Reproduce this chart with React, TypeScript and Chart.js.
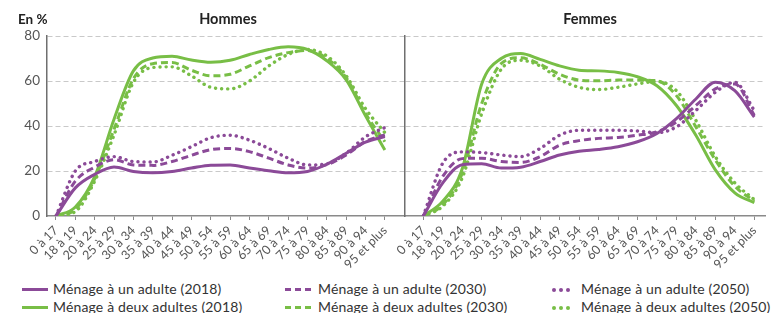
import React, { useEffect, useRef } from "react";
import { Chart, registerables } from "chart.js";
Chart.register(...registerables);

const ageGroups = [
  "0 à 17", "18 à 19", "20 à 24", "25 à 29", "30 à 34", "35 à 39", "40 à 44", "45 à 49", "50 à 54",
  "55 à 59", "60 à 64", "65 à 69", "70 à 74", "75 à 79", "80 à 84", "85 à 89", "90 à 94", "95 et plus",
];
const yTicks = [0, 20, 40, 60, 80];

// Hommes
const hUn2018 = [0, 12.5, 18.5, 21.8, 19.8, 19.2, 19.8, 21.3, 22.6, 22.7, 21.3, 20.1, 19.2, 19.8, 23, 27.9, 32.8, 35.3];
const hUn2030 = [0, 15.5, 21.7, 25, 22.7, 22.5, 24.2, 27, 29.5, 30, 28.6, 25.7, 22.7, 21.3, 22.8, 27.1, 33.2, 36];
const hUn2050 = [0, 20, 24.2, 26.4, 24.2, 24, 27, 30.8, 34.8, 35.9, 33.7, 30, 25.7, 22.7, 23.2, 27.9, 35.2, 39.3];
const hDeux2018 = [0, 4, 17.5, 43, 64.5, 70.2, 71, 69.3, 68.3, 69.2, 71.8, 74, 75.2, 74, 69, 60.5, 44.5, 29.3];
const hDeux2030 = [0, 3, 16.5, 38.5, 61, 67.7, 68.2, 64.8, 62.3, 63, 66.7, 70.4, 72.6, 73.6, 70, 61.5, 45.5, 33];
const hDeux2050 = [0, 2, 15.5, 36, 59.4, 66, 66.3, 62.3, 57.2, 56.5, 60, 66.7, 71.8, 74, 71.1, 62.3, 47.7, 37];

// Femmes
const fUn2018 = [0, 14.7, 22.8, 23.2, 21.3, 21.7, 24.2, 27.1, 28.8, 29.6, 30.8, 33, 36.7, 43.3, 52, 59.5, 55.7, 44];
const fUn2030 = [0, 17.6, 25.5, 25.7, 24.2, 23.8, 26.4, 31.5, 33.5, 34.5, 34.9, 35.9, 37.4, 41.8, 49.1, 56.5, 58.7, 44.8];
const fUn2050 = [0, 23.5, 28.5, 28.2, 27.1, 26.4, 30, 35.9, 38.1, 38.1, 38.1, 37.8, 37, 39.6, 46.9, 55, 59.4, 46.9];
const fDeux2018 = [0, 6.6, 21, 58.7, 70, 72.2, 69.6, 66.7, 64.8, 64.5, 63.8, 61.9, 57.9, 49.1, 35.9, 20.5, 10.3, 5.9];
const fDeux2030 = [0, 5, 19, 50, 67.7, 70.3, 67.4, 63, 60.4, 60.1, 60.4, 60.4, 60.1, 53.5, 39.6, 24.9, 13.2, 6.6];
const fDeux2050 = [0, 4.4, 17, 45.5, 65.2, 69.2, 66.7, 60.8, 57.2, 56.2, 57.2, 58.7, 59.8, 55.7, 42.5, 26.4, 14.7, 7.3];

const seriesLabels = [
  "Ménage à un adulte (2018)",
  "Ménage à un adulte (2030)",
  "Ménage à un adulte (2050)",
  "Ménage à deux adultes (2018)",
  "Ménage à deux adultes (2030)",
  "Ménage à deux adultes (2050)",
];

const PURPLE = "#8b4a98";
const GREEN = "#78be46";
const FONT = "Lato, 'Open Sans', sans-serif";

type Style = "solid" | "dashed" | "dotted";

function lineStyle(style: Style) {
  if (style === "dashed") return { borderDash: [7, 4], borderCapStyle: "butt", borderWidth: 3 };
  if (style === "dotted") return { borderDash: [0.1, 6], borderCapStyle: "round", borderWidth: 3.4 };
  return { borderDash: [], borderCapStyle: "butt", borderWidth: 3 };
}

function makeDatasets(series: number[][]) {
  const styles: Style[] = ["solid", "dashed", "dotted", "solid", "dashed", "dotted"];
  const colors = [PURPLE, PURPLE, PURPLE, GREEN, GREEN, GREEN];
  return series.map((arr, k) => ({
    label: seriesLabels[k],
    data: arr.map((v, i) => ({ x: i, y: v })),
    borderColor: colors[k],
    backgroundColor: colors[k],
    pointRadius: 0,
    fill: false,
    cubicInterpolationMode: "monotone",
    ...lineStyle(styles[k]),
  }));
}

function makeOptions(showY: boolean, xmin: number, xmax: number, yWidth: number, padRight: number) {
  return {
    animation: false,
    responsive: false,
    maintainAspectRatio: false,
    layout: { padding: { top: 36, right: padRight, left: 0, bottom: 0 } },
    plugins: { legend: { display: false }, tooltip: { enabled: false }, title: { display: false } },
    scales: {
      x: {
        type: "linear",
        min: xmin,
        max: xmax,
        afterBuildTicks: (s: any) => {
          s.ticks = ageGroups.map((_, i) => ({ value: i }));
        },
        afterFit: (s: any) => {
          s.height = 64;
        },
        grid: { drawOnChartArea: false, drawTicks: true, tickLength: 4, color: "#8a8a8a", tickWidth: 1 },
        border: { display: true, color: "#8a8a8a", width: 1.5 },
        ticks: {
          autoSkip: false,
          maxRotation: 45,
          minRotation: 45,
          padding: 3,
          color: "#555",
          font: { family: FONT, size: 12.5 },
          callback: (v: any) => ageGroups[Math.round(v)],
        },
      },
      y: {
        min: 0,
        max: 80,
        afterBuildTicks: (s: any) => {
          s.ticks = yTicks.map((v) => ({ value: v }));
        },
        afterFit: (s: any) => {
          s.width = yWidth;
        },
        grid: {
          drawTicks: false,
          lineWidth: 1,
          color: (ctx: any) => (ctx.tick && ctx.tick.value === 0 ? "rgba(0,0,0,0)" : "#c9c9c9"),
        },
        border: { display: true, color: "#6f6f6f", width: 1.5, dash: [5, 3] },
        ticks: {
          display: showY,
          padding: 7,
          color: "#555",
          font: { family: FONT, size: 13.5 },
        },
      },
    },
  };
}

function Panel(props: { series: number[][]; showY: boolean; xmin: number; xmax: number; yWidth: number; padRight: number; width: number; left: number }) {
  const ref = useRef<HTMLCanvasElement | null>(null);
  useEffect(() => {
    if (!ref.current) return;
    const chart = new Chart(ref.current, {
      type: "line",
      data: { datasets: makeDatasets(props.series) as any },
      options: makeOptions(props.showY, props.xmin, props.xmax, props.yWidth, props.padRight) as any,
    });
    return () => chart.destroy();
  }, []);
  return (
    <canvas
      ref={ref}
      width={props.width}
      height={280}
      style={{ position: "absolute", left: props.left, top: 0, width: props.width, height: 280 }}
    />
  );
}

function Sample(props: { color: string; style: Style }) {
  const { color, style } = props;
  if (style === "solid") {
    return <span style={{ display: "inline-block", width: 26, height: 3, background: color }} />;
  }
  if (style === "dashed") {
    return (
      <span style={{ display: "inline-flex", gap: 4, width: 26 }}>
        {[0, 1, 2].map((i) => (
          <span key={i} style={{ display: "inline-block", width: 6, height: 3, background: color }} />
        ))}
      </span>
    );
  }
  return (
    <span style={{ display: "inline-flex", gap: 3.5 }}>
      {[0, 1, 2].map((i) => (
        <span key={i} style={{ display: "inline-block", width: 3.5, height: 3.5, borderRadius: 2, background: color }} />
      ))}
    </span>
  );
}

const legendCols = [
  { sampleLeft: 22, textLeft: 53 },
  { sampleLeft: 285, textLeft: 318 },
  { sampleLeft: 552, textLeft: 581 },
];

export default function App() {
  const styles: Style[] = ["solid", "dashed", "dotted"];
  return (
    <div style={{ position: "fixed", left: 0, top: 0, width: 771, height: 313, background: "#fff", fontFamily: FONT, overflow: "hidden" }}>
      <Panel series={[hUn2018, hUn2030, hUn2050, hDeux2018, hDeux2030, hDeux2050]} showY={true} xmin={-0.465} xmax={18.04} yWidth={47} padRight={0} width={405} left={0} />
      <Panel series={[fUn2018, fUn2030, fUn2050, fDeux2018, fDeux2030, fDeux2050]} showY={false} xmin={-0.94} xmax={17.55} yWidth={15} padRight={6} width={381} left={390} />
      <div style={{ position: "absolute", left: 18, top: 10, fontSize: 13.5, fontWeight: 700, color: "#222", lineHeight: "18px" }}>En %</div>
      <div style={{ position: "absolute", left: 178, width: 100, textAlign: "center", top: 10, fontSize: 14.5, fontWeight: 700, color: "#222", lineHeight: "18px" }}>Hommes</div>
      <div style={{ position: "absolute", left: 540, width: 100, textAlign: "center", top: 10, fontSize: 14.5, fontWeight: 700, color: "#222", lineHeight: "18px" }}>Femmes</div>
      {[0, 1].map((row) =>
        styles.map((st, col) => (
          <div key={row + "-" + col} style={{ position: "absolute", top: 280 + row * 18, left: 0, height: 18 }}>
            <div style={{ position: "absolute", left: legendCols[col].sampleLeft, top: 8, display: "flex", alignItems: "center" }}>
              <Sample color={row === 0 ? PURPLE : GREEN} style={st} />
            </div>
            <div style={{ position: "absolute", left: legendCols[col].textLeft, top: 0, whiteSpace: "nowrap", fontSize: 14, letterSpacing: 0.15, color: "#333", lineHeight: "18px" }}>
              {seriesLabels[row * 3 + col]}
            </div>
          </div>
        ))
      )}
    </div>
  );
}
